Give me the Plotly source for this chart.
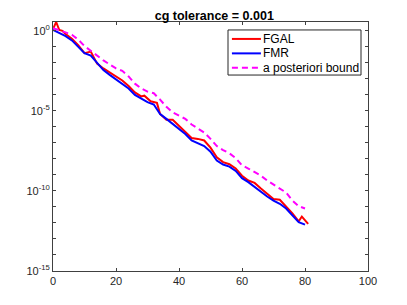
import plotly.graph_objects as go

# FGAL (red)
fgal_x = [0, 1, 2, 3, 4, 6, 8, 10, 12, 14, 16, 18, 20, 22, 24, 26, 28, 29, 31, 33, 34, 36, 38, 40,
          42, 44, 46, 48, 50, 52, 54, 56, 58, 60, 62, 64, 66, 68, 70, 72, 74, 76, 78, 79, 81]
fgal_log = [0.1, 0.55, 0.05, 0.0, -0.2, -0.5, -0.9, -1.4, -1.3, -2.05, -2.35, -2.6, -2.8, -3.1,
            -3.45, -3.85, -4.1, -4.05, -4.4, -4.5, -5.2, -5.55, -5.55, -5.95, -6.35, -6.7, -6.75,
            -6.85, -7.3, -7.9, -8.2, -8.33, -8.6, -9.05, -9.35, -9.5, -9.85, -10.2, -10.5, -10.55,
            -10.95, -11.4, -11.9, -11.6, -12.06]

# FMR (blue)
fmr_x = [0, 2, 4, 6, 8, 10, 12, 14, 16, 18, 20, 22, 24, 26, 28, 30, 32, 34, 36, 38, 40, 42, 44,
         46, 48, 50, 52, 54, 56, 58, 60, 62, 64, 66, 68, 70, 72, 74, 76, 78, 80]
fmr_log = [0.05, -0.15, -0.33, -0.6, -1.0, -1.4, -1.55, -2.0, -2.45, -2.75, -3.05, -3.35, -3.6,
           -4.0, -4.25, -4.45, -4.6, -5.2, -5.5, -5.8, -6.15, -6.45, -6.85, -7.05, -7.2, -7.55,
           -8.1, -8.35, -8.48, -8.75, -9.2, -9.45, -9.75, -10.1, -10.35, -10.6, -10.8, -11.1,
           -11.5, -11.95, -12.1]

# a posteriori bound (magenta dashed)
bound_x = [0, 2, 4, 6, 8, 10, 12, 14, 16, 18, 20, 22, 24, 26, 28, 30, 32, 34, 36, 38, 40, 42, 44,
           46, 48, 50, 52, 54, 56, 58, 60, 62, 64, 66, 68, 70, 72, 74, 76, 78, 80]
bound_log = [0.17, 0.05, -0.1, -0.25, -0.55, -0.95, -1.25, -1.6, -1.85, -2.1, -2.35, -2.5, -2.85,
             -3.3, -3.6, -3.8, -3.9, -4.3, -4.75, -5.1, -5.3, -5.5, -5.85, -6.1, -6.35, -6.75,
             -7.2, -7.45, -7.65, -7.95, -8.4, -8.6, -8.8, -9.05, -9.35, -9.6, -9.85, -10.1,
             -10.6, -10.95, -11.1]

series_names = ["FGAL", "FMR", "a posteriori bound"]
series_colors = ["#FF0000", "#0000FF", "#FF00FF"]
series_dash = ["solid", "solid", "6px,4px"]

x_ticks = [0, 20, 40, 60, 80, 100]
y_major_exps = [-15, -10, -5, 0]
y_minor_exps = [e for e in range(-15, 1) if e not in y_major_exps]

fig = go.Figure()
for xs, logs, name, col, dash in zip([fgal_x, fmr_x, bound_x], [fgal_log, fmr_log, bound_log],
                                     series_names, series_colors, series_dash):
    fig.add_trace(go.Scatter(x=xs, y=[10 ** v for v in logs], mode="lines", name=name,
                             showlegend=False, line=dict(color=col, width=2, dash=dash)))

axis_col = "#404040"
font_fam = "Liberation Sans, Arial, sans-serif"
tick_font = dict(family=font_fam, size=11, color="#262626")

# legend box drawn in paper coordinates
leg_x0, leg_x1, leg_y0, leg_y1 = 0.5556, 0.9778, 0.787, 0.968
row_y = [0.932, 0.874, 0.816]
shapes = [dict(type="rect", xref="paper", yref="paper", x0=leg_x0, x1=leg_x1, y0=leg_y0,
               y1=leg_y1, line=dict(color="#262626", width=1), fillcolor="white", layer="above")]
annotations = []
for name, col, dash, ry in zip(series_names, series_colors, series_dash, row_y):
    shapes.append(dict(type="line", xref="paper", yref="paper", x0=0.568, x1=0.660, y0=ry, y1=ry,
                       line=dict(color=col, width=2, dash=dash), layer="above"))
    annotations.append(dict(text=name, xref="paper", yref="paper", x=0.659, y=ry,
                            xanchor="left", yanchor="middle", showarrow=False,
                            font=dict(family=font_fam, size=12, color="black")))

fig.update_layout(
    width=399, height=297,
    margin=dict(l=45, r=39, t=14, b=34),
    paper_bgcolor="white", plot_bgcolor="white",
    title=dict(text="<b>cg tolerance = 0.001</b>", x=0.517, xanchor="center", y=0.976,
               yanchor="middle", font=dict(family=font_fam, size=12.5, color="black")),
    showlegend=False,
    shapes=shapes,
    annotations=annotations,
    xaxis=dict(range=[0, 100], tickvals=x_ticks, ticktext=[str(t) for t in x_ticks],
               ticks="inside", ticklen=3, tickcolor=axis_col, showline=True, linecolor=axis_col,
               linewidth=1, mirror="allticks", showgrid=False, zeroline=False,
               tickfont=tick_font, automargin=False),
    yaxis=dict(type="log", range=[-15, 0.55],
               tickvals=[10 ** e for e in y_major_exps],
               ticktext=["10<sup>%d</sup>" % e for e in y_major_exps],
               minor=dict(tickvals=[10 ** e for e in y_minor_exps], ticks="inside", ticklen=3,
                          tickcolor=axis_col, showgrid=False),
               ticks="inside", ticklen=3, tickcolor=axis_col, showline=True, linecolor=axis_col,
               linewidth=1, mirror="allticks", showgrid=False, zeroline=False,
               tickfont=tick_font, automargin=False),
)

fig.write_html("out.html")
